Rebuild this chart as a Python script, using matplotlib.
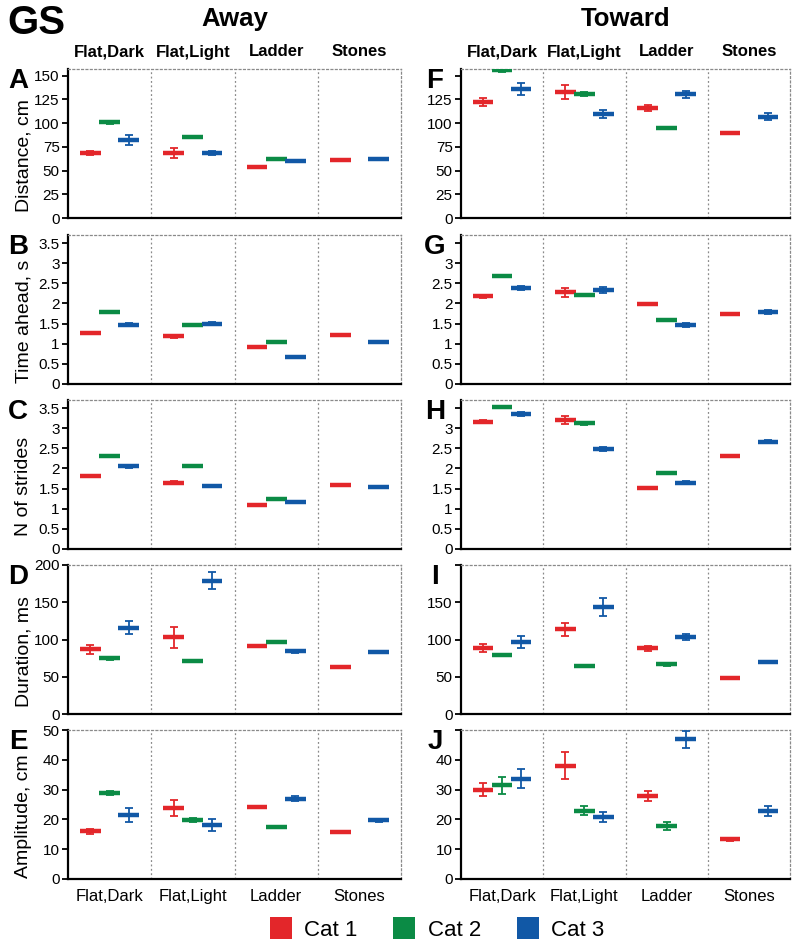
import numpy as np
import matplotlib
matplotlib.use("Agg")
import matplotlib.pyplot as plt
from matplotlib.lines import Line2D

plt.rcParams['font.family'] = ['Liberation Sans', 'DejaVu Sans']

GROUPS = ["Flat,Dark", "Flat,Light", "Ladder", "Stones"]
CATS = ["Cat 1", "Cat 2", "Cat 3"]
COLORS = ["#E3262A", "#0B8B45", "#1158A6"]
nan = np.nan

# rows = Cat 1, Cat 2, Cat 3 ; columns follow GROUPS (no Cat 2 on Stones)
away_dist = [[68.8, 68.3, 53.3, 61.5], [100.8, 85.2, 61.8, nan], [82.3, 68.3, 60.0, 62.0]]
away_dist_err = [[2, 5, 0.5, 0.5], [1.5, 1, 0.5, nan], [5, 2, 1, 1]]
toward_dist = [[122.2, 133.0, 115.9, 89.9], [155.5, 131.0, 95.2, nan], [135.9, 109.6, 130.3, 106.7]]
toward_dist_err = [[4.4, 7.5, 3, 0.8], [1.2, 2, 1, nan], [6, 4.7, 3.5, 3.5]]

away_time = [[1.27, 1.18, 0.92, 1.21], [1.795, 1.46, 1.04, nan], [1.47, 1.50, 0.68, 1.04]]
away_time_err = [[0.03, 0.04, 0.01, 0.01], [0.01, 0.01, 0.01, nan], [0.04, 0.03, 0.01, 0.01]]
toward_time = [[2.18, 2.28, 1.99, 1.75], [2.69, 2.20, 1.60, nan], [2.39, 2.33, 1.47, 1.78]]
toward_time_err = [[0.04, 0.11, 0.03, 0.02], [0.02, 0.02, 0.02, nan], [0.05, 0.07, 0.05, 0.05]]

away_strides = [[1.82, 1.65, 1.09, 1.60], [2.30, 2.06, 1.25, nan], [2.05, 1.56, 1.16, 1.55]]
away_strides_err = [[0.03, 0.04, 0.01, 0.01], [0.02, 0.01, 0.01, nan], [0.03, 0.02, 0.01, 0.01]]
toward_strides = [[3.16, 3.20, 1.51, 2.31], [3.52, 3.12, 1.89, nan], [3.35, 2.49, 1.65, 2.66]]
toward_strides_err = [[0.04, 0.1, 0.03, 0.02], [0.02, 0.03, 0.03, nan], [0.05, 0.05, 0.04, 0.04]]

away_dur = [[87, 103, 91.5, 62.7], [75, 71.6, 96.4, nan], [116, 179, 84, 83]]
away_dur_err = [[6, 14, 1.5, 0.5], [2, 1, 1.5, nan], [9, 11, 2, 1.5]]
toward_dur = [[88.8, 113.8, 88, 48.2], [79, 64.3, 67, nan], [96.9, 144, 103, 69.2]]
toward_dur_err = [[5.5, 9, 3, 0.5], [1.5, 1.5, 2, nan], [8, 12, 4, 1]]

away_amp = [[16.0, 23.9, 24.1, 15.7], [28.9, 19.8, 17.4, nan], [21.4, 18.1, 27.0, 19.7]]
away_amp_err = [[0.9, 2.6, 0.3, 0.3], [0.7, 0.6, 0.3, nan], [2.3, 1.9, 0.7, 0.6]]
toward_amp = [[30.0, 38.0, 27.9, 13.3], [31.4, 22.9, 17.8, nan], [33.7, 20.9, 46.9, 22.9]]
toward_amp_err = [[2.1, 4.6, 1.6, 0.5], [2.9, 1.5, 1.3, nan], [3.2, 1.7, 2.8, 1.6]]

ROWS = [
    ("Distance, cm", (0, 157), [0, 25, 50, 75, 100, 125, 150], "A", "F",
     away_dist, away_dist_err, toward_dist, toward_dist_err),
    ("Time ahead, s", (0, 3.7), [0, 0.5, 1, 1.5, 2, 2.5, 3, 3.5], "B", "G",
     away_time, away_time_err, toward_time, toward_time_err),
    ("N of strides", (0, 3.7), [0, 0.5, 1, 1.5, 2, 2.5, 3, 3.5], "C", "H",
     away_strides, away_strides_err, toward_strides, toward_strides_err),
    ("Duration, ms", (0, 200), [0, 50, 100, 150, 200], "D", "I",
     away_dur, away_dur_err, toward_dur, toward_dur_err),
    ("Amplitude, cm", (0, 50), [0, 10, 20, 30, 40, 50], "E", "J",
     away_amp, away_amp_err, toward_amp, toward_amp_err),
]

W, H = 800, 948
fig = plt.figure(figsize=(W / 100, H / 100), dpi=100)

TOPS = [69, 235, 400, 565, 730]
PH = 149
COLS = [(68, 333), (461, 329)]
OFF = 0.23
HALF = 0.125
GRID = "#8a8a8a"


def fmt(v):
    return f"{v:g}"


def draw_panel(ax, means, errs, ylim, ticks, hide_top, show_x):
    means = np.array(means, dtype=float)
    errs = np.array(errs, dtype=float)
    x = np.arange(len(GROUPS))
    for i, col in enumerate(COLORS):
        xs = x + (i - 1) * OFF
        ok = ~np.isnan(means[i])
        ax.errorbar(xs[ok], means[i][ok], yerr=errs[i][ok], fmt="none",
                    ecolor=col, elinewidth=1.3, capsize=3, capthick=1.3, zorder=3)
        ax.hlines(means[i][ok], xs[ok] - HALF, xs[ok] + HALF, color=col, lw=3.2, zorder=4)
    for d in [0.5, 1.5, 2.5]:
        ax.axvline(d, color=GRID, ls=(0, (1.5, 2)), lw=0.9, zorder=1)
    ax.set_xlim(-0.5, 3.5)
    ax.set_ylim(*ylim)
    ax.set_yticks(ticks)
    labels = [fmt(t) for t in ticks]
    if hide_top:
        labels[-1] = ""
    ax.set_yticklabels(labels, fontsize=11)
    ax.tick_params(axis="y", length=4, width=1.3, pad=2)
    ax.set_xticks(x)
    if show_x:
        ax.set_xticklabels(GROUPS, fontsize=12)
    else:
        ax.set_xticklabels([])
    ax.tick_params(axis="x", length=0, pad=7)
    for s in ["left", "bottom"]:
        ax.spines[s].set_linewidth(1.6)
        ax.spines[s].set_color("black")
    for s in ["top", "right"]:
        ax.spines[s].set_linestyle((0, (1.5, 2)))
        ax.spines[s].set_color(GRID)
        ax.spines[s].set_linewidth(0.9)


for r, (ylab, ylim, ticks, lettL, lettR, mA, eA, mT, eT) in enumerate(ROWS):
    top = TOPS[r]
    for c, (x0, w) in enumerate(COLS):
        ax = fig.add_axes([x0 / W, 1 - (top + PH) / H, w / W, PH / H])
        if c == 0:
            draw_panel(ax, mA, eA, ylim, ticks, False, r == 4)
        else:
            draw_panel(ax, mT, eT, ylim, ticks, True, r == 4)
        if r == 0:
            for g, name in enumerate(GROUPS):
                ax.text(g, 1.0 + 17 / PH, name, transform=ax.get_xaxis_transform(),
                        ha="center", va="center", fontsize=12, fontweight="bold")
            ax.text(0.5, 1.0 + 50 / PH, "Away" if c == 0 else "Toward",
                    transform=ax.transAxes, ha="center", va="center",
                    fontsize=18.5, fontweight="bold")
    fig.text(18 / W, 1 - (top + 12) / H, lettL, ha="center", va="center",
             fontsize=20, fontweight="bold")
    fig.text(435 / W, 1 - (top + 12) / H, lettR, ha="center", va="center",
             fontsize=20, fontweight="bold")
    fig.text(24 / W, 1 - (top + PH / 2 + 12) / H, ylab, rotation=90,
             ha="center", va="center", fontsize=14)

fig.text(36 / W, 1 - 23 / H, "GS", ha="center", va="center",
         fontsize=29, fontweight="bold")

handles = [Line2D([0], [0], marker="s", ls="", markersize=15.5, color=col,
                  markeredgewidth=0, label=lab) for col, lab in zip(COLORS, CATS)]
fig.legend(handles=handles, loc="center", bbox_to_anchor=(437 / W, 1 - 930 / H),
           ncol=3, frameon=False, fontsize=16, handlelength=1.0,
           handletextpad=0.55, columnspacing=1.6, borderpad=0)

fig.savefig("out.png", dpi=100)
